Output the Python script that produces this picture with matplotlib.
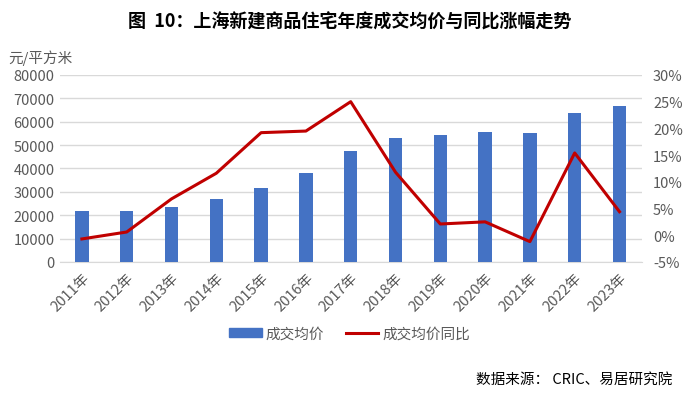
import matplotlib.pyplot as plt
import numpy as np
from matplotlib.ticker import FuncFormatter
from matplotlib.patches import Patch
from matplotlib.lines import Line2D

plt.rcParams['font.family'] = ['Noto Sans CJK SC', 'DejaVu Sans']

# data
years = ["2011年", "2012年", "2013年", "2014年", "2015年", "2016年", "2017年",
         "2018年", "2019年", "2020年", "2021年", "2022年", "2023年"]
price = [22000, 22000, 23600, 26800, 31800, 38000, 47600,
         53200, 54300, 55600, 55100, 63700, 66700]
yoy = [-0.7, 0.6, 6.8, 11.6, 19.2, 19.5, 25.0,
       11.8, 2.1, 2.5, -1.2, 15.4, 4.4]

grey = "#595959"
fig = plt.figure(figsize=(7, 4.02), dpi=100)
ax = fig.add_axes([0.085, 0.346, 0.832, 0.465])
x = np.arange(len(years))

ax.bar(x, price, width=0.3, color="#4472C4", zorder=3)
ax.set_ylim(0, 80000)
ax.set_yticks(range(0, 80001, 10000))
ax.set_xlim(-0.5, len(years) - 0.5)
ax.grid(axis="y", color="#d9d9d9", linewidth=1, zorder=0)
ax.set_xticks(x)
ax.set_xticklabels(years, rotation=45, ha="right", rotation_mode="anchor")
ax.tick_params(axis="both", length=0, labelsize=10.5, colors=grey)
ax.tick_params(axis="x", pad=6)
for s in ["top", "right", "left"]:
    ax.spines[s].set_visible(False)
ax.spines["bottom"].set_color("#d9d9d9")

ax2 = ax.twinx()
ax2.plot(x, yoy, color="#C00000", linewidth=2.2, zorder=4)
ax2.set_ylim(-5, 30)
ax2.set_yticks(range(-5, 31, 5))
ax2.yaxis.set_major_formatter(FuncFormatter(lambda v, p: f"{v:.0f}%"))
ax2.tick_params(axis="y", length=0, labelsize=10.5, colors=grey, pad=8)
for s in ["top", "right", "left", "bottom"]:
    ax2.spines[s].set_visible(False)

fig.text(0.5, 0.945, "图  10：上海新建商品住宅年度成交均价与同比涨幅走势",
         ha="center", va="center", fontsize=13, fontweight="bold")
fig.text(0.012, 0.835, "元/平方米", ha="left", va="bottom", fontsize=10.5, color=grey)

handles = [Patch(color="#4472C4"), Line2D([0], [0], color="#C00000", linewidth=2.2)]
fig.legend(handles, ["成交均价", "成交均价同比"], loc="center", bbox_to_anchor=(0.5, 0.168),
           ncol=2, frameon=False, fontsize=10.5, labelcolor=grey,
           handlelength=2.2, handleheight=0.6, handletextpad=0.3, columnspacing=1.5)

fig.text(0.96, 0.055, "数据来源： CRIC、易居研究院", ha="right", va="center", fontsize=10.5)

fig.savefig("out.png", dpi=100, facecolor="white")
